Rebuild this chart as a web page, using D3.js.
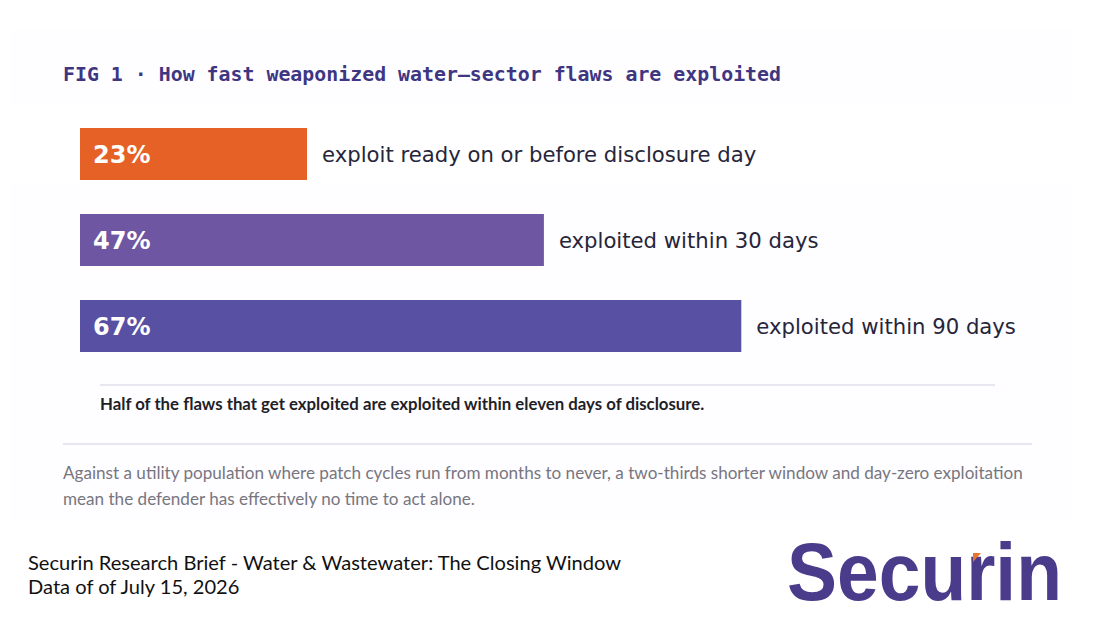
<!DOCTYPE html>
<html>
<head>
<meta charset="utf-8">
<script src="https://cdn.jsdelivr.net/npm/d3@7"></script>
<style>
  body { margin: 0; background: #ffffff; }
  svg { display: block; }
</style>
</head>
<body>
<div id="chart"></div>
<script>
// Chart values
const shares = [23, 47, 67];
const shareLabels = ["23%", "47%", "67%"];
const descriptions = [
    "exploit ready on or before disclosure day",
    "exploited within 30 days",
    "exploited within 90 days"
];
const barColors = ["#e66125", "#6e56a2", "#5850a2"];

const title = "FIG 1 \u00b7 How fast weaponized water\u2013sector flaws are exploited";
const note = "Half of the flaws that get exploited are exploited within eleven days of disclosure.";
const bodyLines = [
    "Against a utility population where patch cycles run from months to never, a two-thirds shorter window and day-zero exploitation",
    "mean the defender has effectively no time to act alone."
];
const footerLines = [
    "Securin Research Brief - Water & Wastewater: The Closing Window",
    "Data of of July 15, 2026"
];

const width = 1100, height = 622;

let svg = d3.select('#chart')
            .append('svg')
            .attr('width', width)
            .attr('height', height);

// very faint panel behind the figure
svg.append('rect')
   .attr('x', 10).attr('y', 30)
   .attr('width', 1062).attr('height', 490)
   .attr('fill', '#fefdff');
svg.append('rect')
   .attr('x', 10).attr('y', 104)
   .attr('width', 1062).attr('height', 80)
   .attr('fill', '#ffffff');

// title
svg.append('text')
   .attr('x', 63).attr('y', 81)
   .attr('font-family', 'DejaVu Sans Mono')
   .attr('font-weight', 'bold')
   .attr('font-size', 20)
   .attr('textLength', 718)
   .attr('lengthAdjust', 'spacingAndGlyphs')
   .attr('fill', '#3f3682')
   .text(title);

// scales
const x = d3.scaleLinear().domain([0, 100]).range([80, 1067]);
const y = d3.scaleBand()
            .domain(d3.range(shares.length))
            .range([128, 352])
            .paddingInner(34 / 86)
            .paddingOuter(0);

let rows = svg.selectAll('g.row')
              .data(shares)
              .join('g')
              .attr('class', 'row');

rows.append('rect')
    .attr('x', x(0))
    .attr('y', (d, i) => y(i))
    .attr('width', d => x(d) - x(0))
    .attr('height', y.bandwidth())
    .attr('fill', (d, i) => barColors[i]);

rows.append('text')
    .attr('x', x(0) + 13)
    .attr('y', (d, i) => y(i) + y.bandwidth() / 2 + 9)
    .attr('font-family', 'DejaVu Sans')
    .attr('font-weight', 'bold')
    .attr('font-size', 24)
    .attr('fill', '#ffffff')
    .text((d, i) => shareLabels[i]);

rows.append('text')
    .attr('x', d => x(d) + 15)
    .attr('y', (d, i) => y(i) + y.bandwidth() / 2 + 8)
    .attr('font-family', 'DejaVu Sans')
    .attr('font-size', 21.2)
    .attr('fill', '#26253a')
    .text((d, i) => descriptions[i]);

// note block
svg.append('line')
   .attr('x1', 100).attr('x2', 995)
   .attr('y1', 385).attr('y2', 385)
   .attr('stroke', '#e9e5f1')
   .attr('stroke-width', 2);
svg.append('text')
   .attr('x', 100).attr('y', 410)
   .attr('font-family', 'Lato')
   .attr('font-weight', 'bold')
   .attr('font-size', 16.8)
   .attr('fill', '#1f1f28')
   .text(note);

svg.append('line')
   .attr('x1', 63).attr('x2', 1032)
   .attr('y1', 444).attr('y2', 444)
   .attr('stroke', '#e9e5f1')
   .attr('stroke-width', 2);

svg.selectAll('text.body')
   .data(bodyLines)
   .join('text')
   .attr('class', 'body')
   .attr('x', 63)
   .attr('y', (d, i) => 479 + i * 26)
   .attr('font-family', 'Lato')
   .attr('font-size', 17.1)
   .attr('fill', '#77767f')
   .text(d => d);

// footer
svg.selectAll('text.footer')
   .data(footerLines)
   .join('text')
   .attr('class', 'footer')
   .attr('x', 28)
   .attr('y', (d, i) => 570 + i * 24)
   .attr('font-family', 'Lato')
   .attr('font-size', 20.1)
   .attr('fill', '#111111')
   .text(d => d);

// logo
svg.append('text')
   .attr('x', 787).attr('y', 600)
   .attr('font-family', 'Liberation Sans')
   .attr('font-weight', 'bold')
   .attr('font-size', 82)
   .attr('textLength', 275)
   .attr('lengthAdjust', 'spacingAndGlyphs')
   .attr('fill', '#4a3b8b')
   .text('Securin');
svg.append('path')
   .attr('d', 'M973,553 L981,553 L973,562 Z')
   .attr('fill', '#e8762a');
</script>
</body>
</html>
